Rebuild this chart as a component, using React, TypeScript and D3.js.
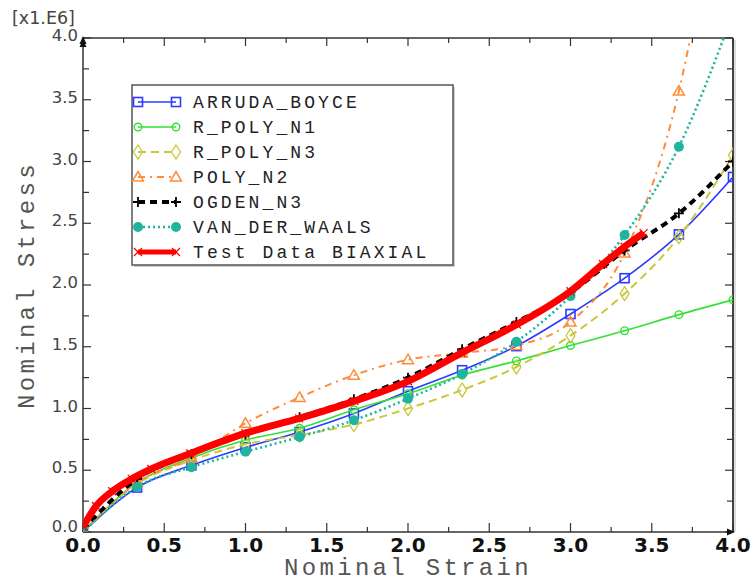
import React from "react";
import * as d3 from "d3";

// ---- data (stress in units of 1e6) ----
const strain = [0, 0.333, 0.667, 1.0, 1.333, 1.667, 2.0, 2.333, 2.667, 3.0, 3.333, 3.667, 4.0];
const arrudaBoyce = [0, 0.36, 0.54, 0.685, 0.81, 0.96, 1.14, 1.31, 1.505, 1.765, 2.055, 2.41, 2.875];
const rPolyN1 = [0, 0.4, 0.6, 0.745, 0.84, 0.99, 1.12, 1.27, 1.385, 1.51, 1.63, 1.76, 1.88];
const rPolyN3 = [0, 0.39, 0.58, 0.71, 0.785, 0.87, 1.0, 1.15, 1.335, 1.59, 1.93, 2.39, 3.05];
const polyN2 = [0, 0.4, 0.6, 0.88, 1.09, 1.27, 1.395, 1.45, 1.51, 1.7, 2.26, 3.57, 6.0];
const ogdenN3 = [0.02, 0.43, 0.63, 0.79, 0.93, 1.075, 1.25, 1.48, 1.7, 1.94, 2.28, 2.58, 3.0];
const vanDerWaals = [0, 0.367, 0.525, 0.65, 0.77, 0.905, 1.08, 1.28, 1.54, 1.91, 2.405, 3.12, 4.2];
const testStrain = [0, 0.08, 0.18, 0.3, 0.42, 0.66, 1.0, 1.33, 1.67, 2.0, 2.33, 2.67, 3.0, 3.2, 3.333, 3.45];
const testStress = [0.04, 0.21, 0.33, 0.43, 0.51, 0.635, 0.8, 0.92, 1.06, 1.22, 1.45, 1.68, 1.95, 2.17, 2.31, 2.42];

const xTickLabels = ["0.0", "0.5", "1.0", "1.5", "2.0", "2.5", "3.0", "3.5", "4.0"];
const yTickLabels = ["0.0", "0.5", "1.0", "1.5", "2.0", "2.5", "3.0", "3.5", "4.0"];

type Marker = "square" | "circle" | "diamond" | "triangle" | "plus" | "dot" | "cross";
interface Series {
  name: string;
  x: number[];
  y: number[];
  color: string;
  width: number;
  dash?: string;
  marker: Marker;
}

const series: Series[] = [
  { name: "ARRUDA_BOYCE", x: strain, y: arrudaBoyce, color: "#2b3bff", width: 1.6, marker: "square" },
  { name: "R_POLY_N1", x: strain, y: rPolyN1, color: "#33e033", width: 1.6, marker: "circle" },
  { name: "R_POLY_N3", x: strain, y: rPolyN3, color: "#c8c83a", width: 2, dash: "8,5", marker: "diamond" },
  { name: "POLY_N2", x: strain, y: polyN2, color: "#ff8c3a", width: 2, dash: "7,5,2,5", marker: "triangle" },
  { name: "OGDEN_N3", x: strain, y: ogdenN3, color: "#000000", width: 4, dash: "7,5", marker: "plus" },
  { name: "VAN_DER_WAALS", x: strain, y: vanDerWaals, color: "#1fb59c", width: 2.6, dash: "2,3", marker: "dot" },
  { name: "Test Data BIAXIAL", x: testStrain, y: testStress, color: "#ff0000", width: 7, marker: "cross" },
];

const W = 753;
const H = 584;
const x = d3.scaleLinear().domain([0, 4]).range([83, 733]);
const y = d3.scaleLinear().domain([0, 4]).range([532, 38]);

function MarkerShape({ type, cx, cy, color }: { type: Marker; cx: number; cy: number; color: string }) {
  switch (type) {
    case "square":
      return <rect x={cx - 4.5} y={cy - 4.5} width={9} height={9} fill="none" stroke={color} strokeWidth={1.6} />;
    case "circle":
      return <circle cx={cx} cy={cy} r={3.8} fill="none" stroke={color} strokeWidth={1.4} />;
    case "diamond":
      return <path d={`M${cx},${cy - 7}L${cx + 4.5},${cy}L${cx},${cy + 7}L${cx - 4.5},${cy}Z`} fill="none" stroke={color} strokeWidth={1.3} />;
    case "triangle":
      return <path d={`M${cx},${cy - 5.5}L${cx + 5.5},${cy + 4}L${cx - 5.5},${cy + 4}Z`} fill="none" stroke={color} strokeWidth={1.5} />;
    case "plus":
      return <path d={`M${cx - 5},${cy}H${cx + 5}M${cx},${cy - 5}V${cy + 5}`} stroke={color} strokeWidth={1.8} />;
    case "dot":
      return <circle cx={cx} cy={cy} r={5} fill={color} />;
    case "cross":
      return <path d={`M${cx - 4},${cy - 4}L${cx + 4},${cy + 4}M${cx - 4},${cy + 4}L${cx + 4},${cy - 4}`} stroke={color} strokeWidth={1.3} />;
  }
  return null;
}

export default function App() {
  const line = d3
    .line<[number, number]>()
    .x((d) => x(d[0]))
    .y((d) => y(d[1]))
    .curve(d3.curveMonotoneX);

  const majorX = d3.range(0, 9).map((i) => i * 0.5);
  const minorX = d3.range(0, 8).map((i) => i * 0.5 + 0.25);

  const legendTop = 102;
  const legendStep = 25;

  return (
    <svg width={W} height={H} style={{ position: "absolute", left: 0, top: 0, background: "white" }}>
      <defs>
        <clipPath id="plotClip">
          <rect x={83} y={38} width={650} height={494} />
        </clipPath>
      </defs>
      <rect x={0} y={0} width={W} height={H} fill="white" />

      {/* frame */}
      <line x1={83} y1={38} x2={733} y2={38} stroke="#333" strokeWidth={1.5} />
      <line x1={733} y1={38} x2={733} y2={532} stroke="#444" strokeWidth={2} />
      <line x1={735} y1={40} x2={735} y2={532} stroke="#bbb" strokeWidth={1} />
      <line x1={83} y1={38} x2={83} y2={532} stroke="#333" strokeWidth={1.5} />
      <line x1={83} y1={532} x2={733} y2={532} stroke="#333" strokeWidth={1.5} />

      {/* ticks */}
      {majorX.map((v) => (
        <g key={"mx" + v}>
          <line x1={x(v)} x2={x(v)} y1={532} y2={523} stroke="#333" strokeWidth={1.2} />
          <line x1={x(v)} x2={x(v)} y1={38} y2={46} stroke="#333" strokeWidth={1.2} />
          <line y1={y(v)} y2={y(v)} x1={83} x2={91} stroke="#333" strokeWidth={1.2} />
          <line y1={y(v)} y2={y(v)} x1={733} x2={725} stroke="#333" strokeWidth={1.2} />
        </g>
      ))}
      {minorX.map((v) => (
        <g key={"nx" + v}>
          <line x1={x(v)} x2={x(v)} y1={532} y2={527} stroke="#333" strokeWidth={1.2} />
          <line x1={x(v)} x2={x(v)} y1={38} y2={43} stroke="#333" strokeWidth={1.2} />
          <line y1={y(v)} y2={y(v)} x1={83} x2={89} stroke="#333" strokeWidth={1.2} />
          <line y1={y(v)} y2={y(v)} x1={733} x2={727} stroke="#333" strokeWidth={1.2} />
        </g>
      ))}

      {/* arrows */}
      <path d="M83,36 L79.5,44 L86.5,44 Z" fill="#111" />
      <path d="M83,40 L79.5,47 L86.5,47 Z" fill="#111" />
      <path d="M735,532 L727,528.5 L727,535.5 Z" fill="#111" />

      {/* tick labels */}
      {xTickLabels.map((t, i) => (
        <text key={"xl" + t} x={x(majorX[i])} y={552} textAnchor="middle" fontFamily="DejaVu Sans" fontWeight="bold" fontSize={20} fill="#111">
          {t}
        </text>
      ))}
      {yTickLabels.map((t, i) => (
        <text key={"yl" + t} x={78} y={y(majorX[i]) + (i === 0 ? 0 : 3)} textAnchor="end" fontFamily="DejaVu Sans" fontSize={16.5} fill="#444">
          {t}
        </text>
      ))}
      <text x={12} y={24} fontFamily="DejaVu Sans" fontSize={17.5} fill="#444">
        [x1.E6]
      </text>

      {/* axis titles */}
      <text x={408} y={575} textAnchor="middle" fontFamily="Liberation Mono" fontSize={24} letterSpacing={3.3} fill="#555">
        Nominal Strain
      </text>
      <text transform={`translate(34,285) rotate(-90)`} textAnchor="middle" fontFamily="Liberation Mono" fontSize={24} letterSpacing={3.3} fill="#555">
        Nominal Stress
      </text>

      {/* curves */}
      <g clipPath="url(#plotClip)">
        {series.map((s) => {
          const pts: [number, number][] = s.x.map((v, i) => [v, s.y[i]]);
          return (
            <g key={s.name}>
              <path d={line(pts) || ""} fill="none" stroke={s.color} strokeWidth={s.width} strokeDasharray={s.dash} strokeLinejoin="round" />
              {pts
                .filter((p) => p[1] <= 4)
                .map((p, i) => (
                  <MarkerShape key={i} type={s.marker} cx={x(p[0])} cy={y(p[1])} color={s.color} />
                ))}
            </g>
          );
        })}
      </g>

      {/* legend */}
      <rect x={134} y={87} width={321} height={180} fill="#ccc" />
      <rect x={132} y={85} width={321} height={180} fill="white" stroke="#555" strokeWidth={1.5} />
      {series.map((s, i) => {
        const ly = legendTop + i * legendStep;
        return (
          <g key={"lg" + s.name}>
            <line x1={138} x2={176} y1={ly} y2={ly} stroke={s.color} strokeWidth={Math.min(s.width, 5)} strokeDasharray={s.dash} />
            <MarkerShape type={s.marker} cx={138} cy={ly} color={s.color} />
            <MarkerShape type={s.marker} cx={176} cy={ly} color={s.color} />
            <text x={193} y={ly + 6} fontFamily="Liberation Mono" fontSize={18} letterSpacing={3.1} fill="#222">
              {s.name}
            </text>
          </g>
        );
      })}
    </svg>
  );
}
